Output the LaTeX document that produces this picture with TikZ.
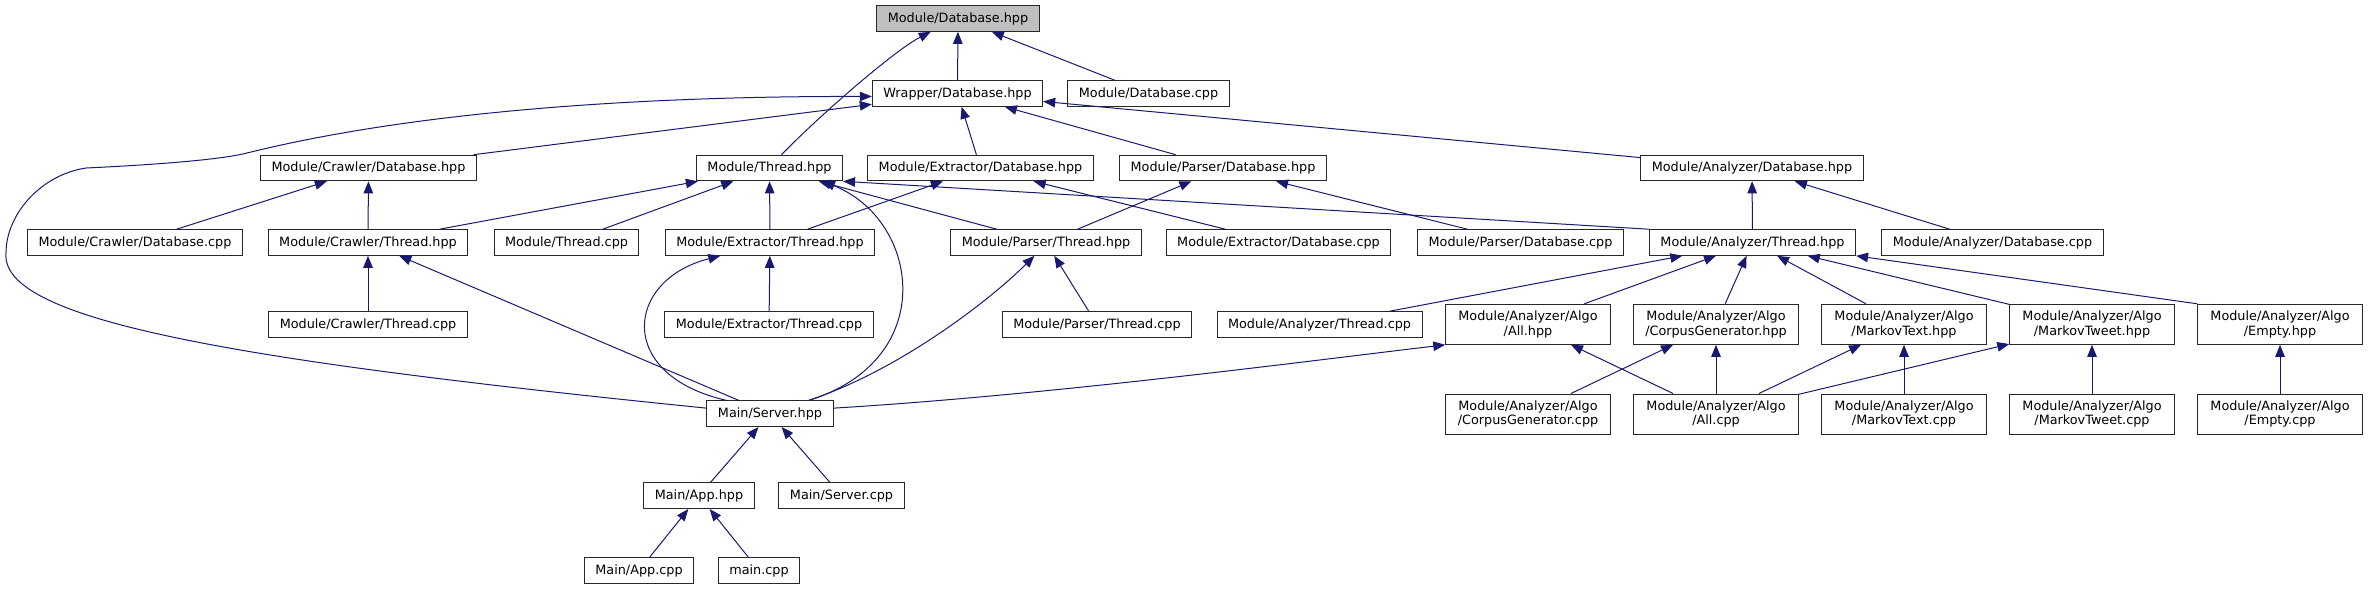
\documentclass[tikz,border=0pt]{standalone}
\usepackage{fontspec}
\setmainfont{DejaVu Sans}
\usepackage{tikz}
\usetikzlibrary{arrows.meta}
\definecolor{edgeBlue}{RGB}{25,25,112}
\definecolor{boxGrey}{RGB}{191,191,191}

\begin{document}
\begin{tikzpicture}[x=1pt,y=-1pt,font=\fontsize{12.8}{14.5}\selectfont,
 file/.style={draw=black!85,line width=1pt,fill=white,inner xsep=11pt,inner ysep=0pt,minimum height=25.6pt},
 algo/.style={file,align=center,minimum width=164.5pt,minimum height=40pt,inner xsep=4pt},
 arr/.style={{Triangle[length=12pt,width=9.5pt,fill=edgeBlue]}-,draw=edgeBlue,line width=1pt}]
\useasboundingbox (0,0) rectangle (2368,589);
% rank 0 and 1
\node[file,fill=boxGrey] (modDb) at (958,18.5) {Module/Database.hpp};
\node[file] (wrapDb) at (957.5,93.5) {Wrapper/Database.hpp};
\node[file] (modDbCpp) at (1148.5,93.5) {Module/Database.cpp};
% rank 2
\node[file] (crDb) at (368.5,168) {Module/Crawler/Database.hpp};
\node[file] (modTh) at (769.5,168) {Module/Thread.hpp};
\node[file] (exDb) at (980.5,168) {Module/Extractor/Database.hpp};
\node[file] (paDb) at (1223,168) {Module/Parser/Database.hpp};
\node[file] (anDb) at (1752,168) {Module/Analyzer/Database.hpp};
% rank 3
\node[file] (crDbCpp) at (135,242.5) {Module/Crawler/Database.cpp};
\node[file] (crTh) at (368,242.5) {Module/Crawler/Thread.hpp};
\node[file] (modThCpp) at (566.5,242.5) {Module/Thread.cpp};
\node[file] (exTh) at (770,242.5) {Module/Extractor/Thread.hpp};
\node[file] (paTh) at (1046,242.5) {Module/Parser/Thread.hpp};
\node[file] (exDbCpp) at (1278.5,242.5) {Module/Extractor/Database.cpp};
\node[file] (paDbCpp) at (1520.5,242.5) {Module/Parser/Database.cpp};
\node[file] (anTh) at (1752.5,242.5) {Module/Analyzer/Thread.hpp};
\node[file] (anDbCpp) at (1992.5,242.5) {Module/Analyzer/Database.cpp};
% rank 4
\node[file] (crThCpp) at (368,324.5) {Module/Crawler/Thread.cpp};
\node[file] (exThCpp) at (769,324.5) {Module/Extractor/Thread.cpp};
\node[file] (paThCpp) at (1097,324.5) {Module/Parser/Thread.cpp};
\node[file] (anThCpp) at (1319.5,324.5) {Module/Analyzer/Thread.cpp};
\node[algo] (allH) at (1528,324.3) {Module/Analyzer/Algo\\/All.hpp};
\node[algo] (corpH) at (1716,324.3) {Module/Analyzer/Algo\\/CorpusGenerator.hpp};
\node[algo] (mtxtH) at (1904,324.3) {Module/Analyzer/Algo\\/MarkovText.hpp};
\node[algo] (mtwH) at (2092,324.3) {Module/Analyzer/Algo\\/MarkovTweet.hpp};
\node[algo] (emptyH) at (2280,324.3) {Module/Analyzer/Algo\\/Empty.hpp};
% rank 5
\node[file] (server) at (770,413.7) {Main/Server.hpp};
\node[algo] (corpCpp) at (1528,414) {Module/Analyzer/Algo\\/CorpusGenerator.cpp};
\node[algo] (allCpp) at (1716,414) {Module/Analyzer/Algo\\/All.cpp};
\node[algo] (mtxtCpp) at (1904,414) {Module/Analyzer/Algo\\/MarkovText.cpp};
\node[algo] (mtwCpp) at (2092,414) {Module/Analyzer/Algo\\/MarkovTweet.cpp};
\node[algo] (emptyCpp) at (2280,414) {Module/Analyzer/Algo\\/Empty.cpp};
% rank 6 and 7
\node[file] (appH) at (699,495.7) {Main/App.hpp};
\node[file] (serverCpp) at (841.5,495.7) {Main/Server.cpp};
\node[file] (appCpp) at (639,570.5) {Main/App.cpp};
\node[file] (mainCpp) at (759,570.5) {main.cpp};
% includes of Module/Database.hpp
\draw[arr] (modDb) -- (wrapDb);
\draw[arr] (modDb) -- (modDbCpp);
\draw[arr] (modDb.206) .. controls (895,50) and (820,115) .. (modTh.48);
% includes of Wrapper/Database.hpp
\draw[arr] (wrapDb.182) .. controls (650,96) and (420,110) .. (247,153)
 .. controls (220,160) and (150,165) .. (86,168)
 .. controls (40,175) and (6,215) .. (6,253)
 .. controls (0,320) and (230,360) .. (server.175);
\draw[arr] (wrapDb) -- (crDb);
\draw[arr] (wrapDb) -- (exDb);
\draw[arr] (wrapDb) -- (paDb);
\draw[arr] (wrapDb) -- (anDb);
% database and thread headers
\draw[arr] (crDb) -- (crDbCpp);
\draw[arr] (crDb) -- (crTh);
\draw[arr] (modTh) -- (crTh);
\draw[arr] (modTh) -- (modThCpp);
\draw[arr] (modTh) -- (exTh);
\draw[arr] (modTh) -- (paTh);
\draw[arr] (modTh.south east) -- (anTh.north west);
\draw[arr] (modTh.-14) .. controls (920,220) and (940,360) .. (server.19);
\draw[arr] (exDb) -- (exTh);
\draw[arr] (exDb) -- (exDbCpp);
\draw[arr] (paDb) -- (paTh);
\draw[arr] (paDb) -- (paDbCpp);
\draw[arr] (anDb) -- (anTh);
\draw[arr] (anDb) -- (anDbCpp);
\draw[arr] (crTh) -- (crThCpp);
\draw[arr] (crTh) -- (server);
\draw[arr] (exTh) -- (exThCpp);
\draw[arr] (exTh.195) .. controls (625,280) and (615,375) .. (server.163);
\draw[arr] (paTh) -- (paThCpp);
\draw[arr] (paTh.229) .. controls (990,300) and (900,370) .. (server.19);
\draw[arr] (anTh) -- (anThCpp);
\draw[arr] (anTh) -- (allH);
\draw[arr] (anTh) -- (corpH);
\draw[arr] (anTh) -- (mtxtH);
\draw[arr] (anTh) -- (mtwH);
\draw[arr] (anTh.south east) -- (emptyH.north west);
% algorithms
\draw[arr] (allH.south west) .. controls (1300,362) and (1050,395) .. (server.5);
\draw[arr] (allH) -- (allCpp);
\draw[arr] (corpH) -- (corpCpp);
\draw[arr] (corpH) -- (allCpp);
\draw[arr] (mtxtH) -- (allCpp);
\draw[arr] (mtxtH) -- (mtxtCpp);
\draw[arr] (mtwH) -- (allCpp);
\draw[arr] (mtwH) -- (mtwCpp);
\draw[arr] (emptyH) -- (emptyCpp);
% main
\draw[arr] (server) -- (appH);
\draw[arr] (server) -- (serverCpp);
\draw[arr] (appH) -- (appCpp);
\draw[arr] (appH) -- (mainCpp);
\end{tikzpicture}
\end{document}
